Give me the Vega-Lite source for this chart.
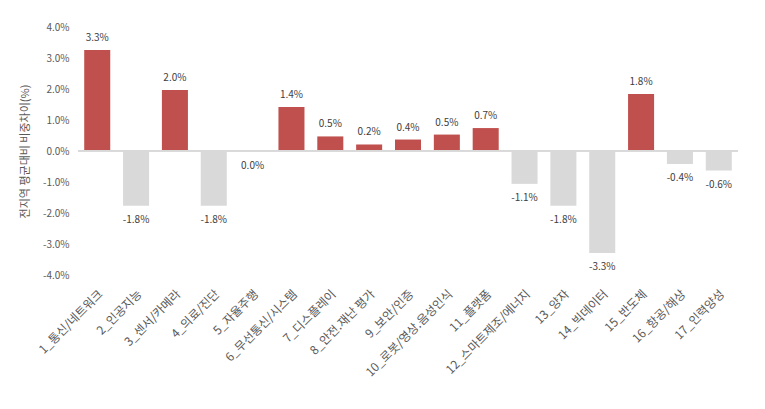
{
  "$schema": "https://vega.github.io/schema/vega-lite/v6.json",
  "width": 660,
  "height": 248,
  "autosize": {"type": "none"},
  "padding": {"left": 78, "top": 27, "right": 27, "bottom": 134},
  "background": "white",
  "data": {"values": [
    {"cat": "1_통신/네트워크", "v": 0.0326},
    {"cat": "2_인공지능", "v": -0.0177},
    {"cat": "3_센서/카메라", "v": 0.0197},
    {"cat": "4_의료/진단", "v": -0.0177},
    {"cat": "5_자율주행", "v": -0.0002},
    {"cat": "6_무선통신/시스템", "v": 0.0142},
    {"cat": "7_디스플레이", "v": 0.0047},
    {"cat": "8_안전.재난 평가", "v": 0.0021},
    {"cat": "9_보안/인증", "v": 0.0037},
    {"cat": "10_로봇/영상.음성인식", "v": 0.0053},
    {"cat": "11_플랫폼", "v": 0.0074},
    {"cat": "12_스마트제조/에너지", "v": -0.0106},
    {"cat": "13_양자", "v": -0.0177},
    {"cat": "14_빅데이터", "v": -0.0329},
    {"cat": "15_반도체", "v": 0.0184},
    {"cat": "16_항공/해상", "v": -0.0042},
    {"cat": "17_인력양성", "v": -0.0063}
  ]},
  "encoding": {
    "x": {
      "field": "cat", "type": "nominal", "sort": null,
      "scale": {"paddingInner": 0.33, "paddingOuter": 0.16},
      "axis": {"title": null, "labelAngle": -45, "labelAlign": "right", "labelBaseline": "top", "labelPadding": 13, "ticks": false, "domain": false, "labelFontSize": 12, "labelColor": "#595959", "labelFont": "Noto Sans CJK KR", "labelOverlap": false, "labelLimit": 0}
    },
    "y": {
      "field": "v", "type": "quantitative",
      "scale": {"domain": [-0.04, 0.04], "nice": false},
      "axis": {"title": "전지역 평균대비 비중차이(%)", "format": ".1%", "values": [-0.04, -0.03, -0.02, -0.01, 0, 0.01, 0.02, 0.03, 0.04], "labelOverlap": false, "grid": false, "ticks": false, "domain": false, "labelPadding": 9, "labelFontSize": 10, "labelColor": "#595959", "labelFont": "Noto Sans CJK KR", "titleFont": "Noto Sans CJK KR", "titleFontSize": 11, "titleFontWeight": "normal", "titleColor": "#595959", "titlePadding": 12}
    }
  },
  "layer": [
    {
      "mark": {"type": "bar"},
      "encoding": {
        "color": {"condition": {"test": "datum.v > 0", "value": "#C0504D"}, "value": "#D9D9D9"}
      }
    },
    {
      "mark": {"type": "rule", "color": "#D9D9D9", "strokeWidth": 1},
      "encoding": {"y": {"datum": 0}, "x": null}
    },
    {
      "transform": [{"filter": "datum.v > 0"}],
      "mark": {"type": "text", "baseline": "bottom", "dy": -7, "fontSize": 10, "color": "#404040", "font": "Noto Sans CJK KR"},
      "encoding": {"text": {"field": "v", "format": ".1%"}}
    },
    {
      "transform": [{"filter": "datum.v <= 0"}],
      "mark": {"type": "text", "baseline": "top", "dy": 9, "fontSize": 10, "color": "#404040", "font": "Noto Sans CJK KR"},
      "encoding": {"text": {"field": "v", "format": ".1%"}}
    }
  ],
  "config": {
    "view": {"stroke": null},
    "locale": {"number": {"decimal": ".", "thousands": ",", "grouping": [3], "currency": ["$", ""], "minus": "-"}}
  }
}
